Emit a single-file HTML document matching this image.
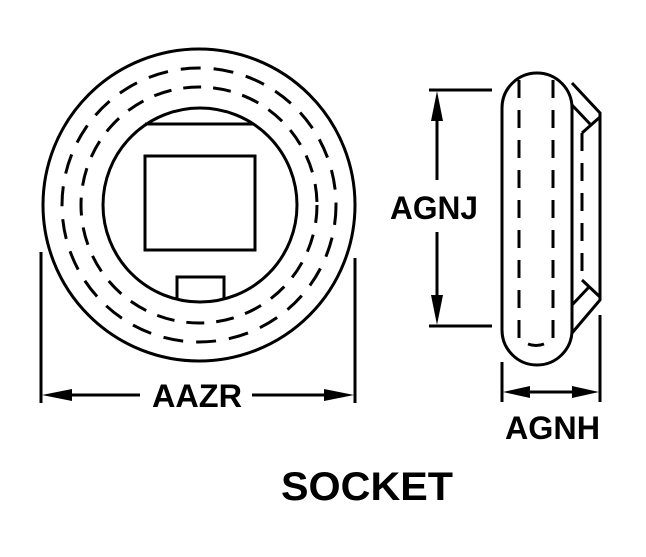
<!DOCTYPE html>
<html><head><meta charset="utf-8"><style>html,body{margin:0;padding:0;background:#fff}</style></head>
<body>
<svg width="646" height="552" viewBox="0 0 646 552" xmlns="http://www.w3.org/2000/svg" font-family="Liberation Sans, sans-serif" font-weight="bold">
<g fill="none" stroke="#000" stroke-width="3">
<circle cx="199" cy="205" r="156"/>
<circle cx="200" cy="205" r="97"/>
<circle cx="199" cy="205" r="137" stroke-dasharray="20 13"/>
<circle cx="199" cy="205" r="118" stroke-dasharray="18 12"/>
<rect x="145" y="156" width="110" height="94"/>
<line x1="145" y1="124" x2="253" y2="124"/>
<polyline points="177,300 177,277 224,277 224,300"/>
<rect x="502" y="73" width="70" height="292" rx="35"/>
<path d="M519 80 V340 M553 80 V340" stroke-dasharray="18 12"/>
<path d="M528 344 Q536 347 544 344"/>
<polyline points="572,83 600,113 600,300 572,333"/>
<polyline points="572,105 590,124"/>
<polyline points="600,117 582,133"/>
<line x1="582" y1="133" x2="582" y2="280" stroke-dasharray="18 12"/>
<polyline points="582,280 600,297"/>
<polyline points="572,305 589,287"/>
<line x1="429" y1="90" x2="492" y2="90"/>
<line x1="429" y1="326" x2="492" y2="326"/>
<line x1="437" y1="100" x2="437" y2="180"/>
<line x1="437" y1="232" x2="437" y2="316"/>
<line x1="41" y1="252" x2="41" y2="403"/>
<line x1="355" y1="258" x2="355" y2="403"/>
<line x1="50" y1="395" x2="140" y2="395"/>
<line x1="252" y1="395" x2="346" y2="395"/>
<line x1="502" y1="362" x2="502" y2="402"/>
<line x1="600" y1="315" x2="600" y2="402"/>
<line x1="510" y1="392" x2="592" y2="392"/>
</g>
<g fill="#000">
<polygon points="437,91 431,121 443,121"/>
<polygon points="437,325 431,295 443,295"/>
<polygon points="42,395 72,389 72,401"/>
<polygon points="354,395 324,389 324,401"/>
<polygon points="503,392 530,386 530,398"/>
<polygon points="599,392 572,386 572,398"/>
</g>
<g font-size="32" lengthAdjust="spacingAndGlyphs">
<text x="390" y="219" textLength="88" lengthAdjust="spacingAndGlyphs">AGNJ</text>
<text x="152" y="407" textLength="90" lengthAdjust="spacingAndGlyphs">AAZR</text>
<text x="505" y="439" textLength="95" lengthAdjust="spacingAndGlyphs">AGNH</text>
<text x="281" y="500" font-size="40" textLength="172" lengthAdjust="spacingAndGlyphs">SOCKET</text>
</g>
</svg>
</body></html>
